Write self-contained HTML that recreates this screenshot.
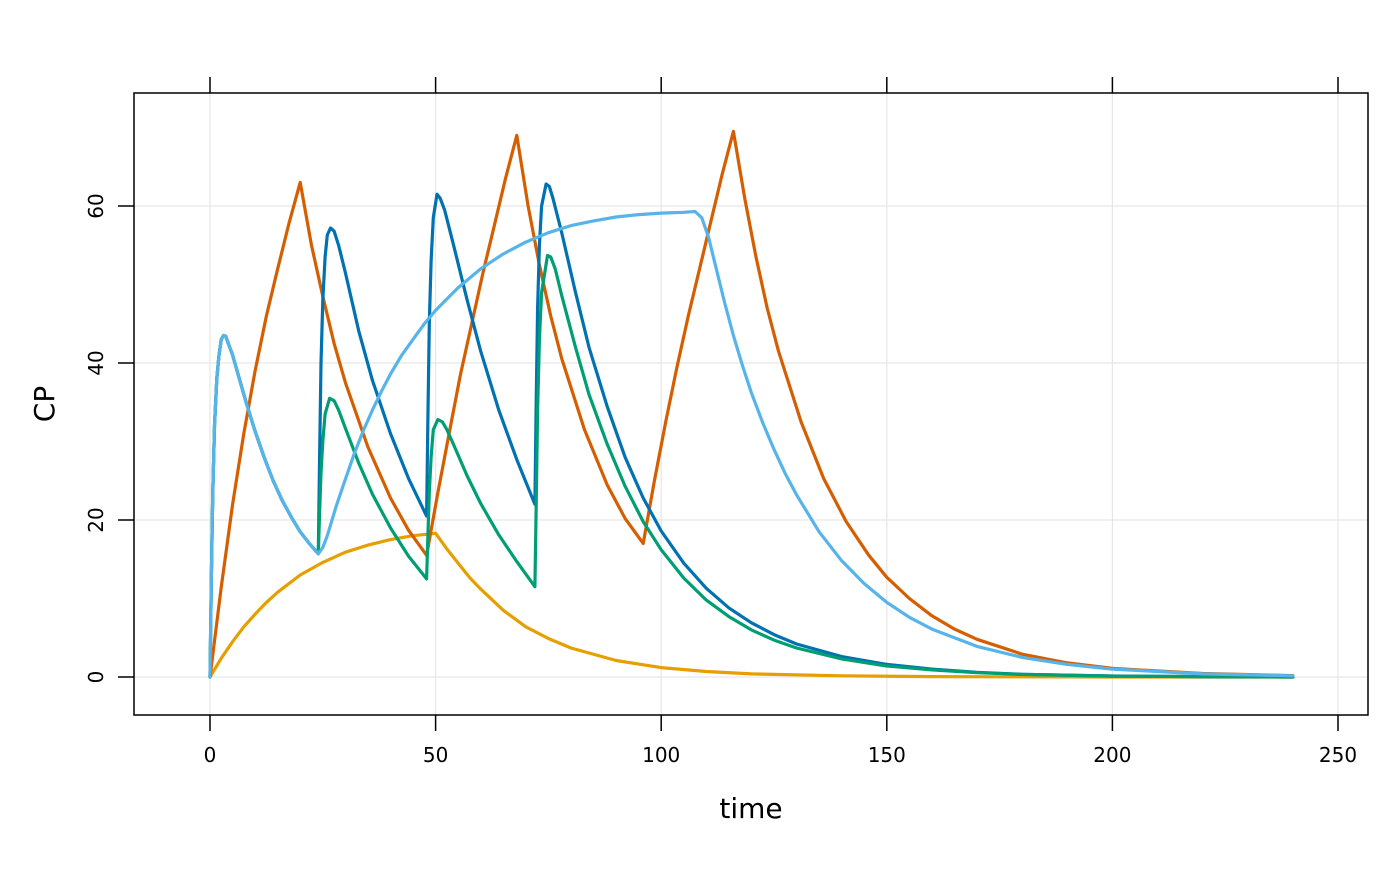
<!DOCTYPE html>
<html><head><meta charset="utf-8"><style>
body{margin:0;background:#fff;}
svg text{font-family:"DejaVu Sans","Liberation Sans",sans-serif;fill:#000;}
</style></head><body>
<svg id="chart" width="1400" height="866" xmlns="http://www.w3.org/2000/svg"></svg>
<script>
const xTicks=[0,50,100,150,200,250];
const yTicks=[0,20,40,60];
const sYellowT=[0,2.5,5,7.5,10,12.5,15,20,25,30,35,40,45,50,52.5,55,57.5,60,65,70,75,80,90,100,110,120,140,160,200,240];
const sYellowV=[0,2.4,4.5,6.4,8,9.5,10.8,13,14.6,15.9,16.8,17.5,18,18.3,16.3,14.5,12.7,11.2,8.5,6.4,4.9,3.7,2.1,1.2,0.7,0.4,0.15,0.05,0,0];
const sVermT=[0,2.5,5,7.5,10,12.5,15,17.5,20,22.5,25,27.5,30,35,40,44,48,50.5,53,55.5,58,60.5,63,65.5,68,70.5,73,75.5,78,83,88,92,96,98.5,101,103.5,106,108.5,111,113.5,116,118.5,121,123.5,126,131,136,141,146,150,155,160,165,170,180,190,200,220,240];
const sVermV=[0,11.5,22,31,39,46,52,57.8,63,55,48.5,42.5,37.5,29.3,22.8,18.7,15.5,23.5,31,38.5,45,51.5,57.5,63.5,69,60,52.5,46,40.5,31.5,24.5,20.2,17,25,32.5,39.5,46,52,58,64,69.5,61,53.5,47,41.5,32.5,25.3,19.8,15.5,12.7,10,7.8,6.1,4.8,2.9,1.8,1.1,0.45,0.18];
const sDarkT=[0,0.3,0.6,1,1.5,2,2.5,3,3.5,4,5,6,8,10,12,14,16,18,20,22,24,24.3,24.6,25,25.5,26,26.7,27.5,28.5,30,33,36,40,44,48,48.3,48.6,49,49.5,50.3,51,52,54,57,60,64,68,72,72.3,72.6,73,73.5,74.5,75.2,76,78,81,84,88,92,96,100,105,110,115,120,125,130,140,150,160,170,180,200,220,240];
const sDarkV=[0,13,23,32,38,41,43,43.5,43.4,42.6,41,39,35,31.3,28,25,22.5,20.4,18.5,17,15.7,28,40,48,53.5,56.3,57.2,56.8,55,51.5,44,37.8,31,25.3,20.5,33,45,53,58.5,61.5,61,59.5,55,48,41.5,34,27.7,22,35,47,55,60,62.8,62.5,61,56.5,49,42,34.5,28,22.8,18.6,14.5,11.3,8.8,6.9,5.4,4.2,2.6,1.6,1,0.6,0.35,0.13,0.05,0];
const sGreenT=[0,0.3,0.6,1,1.5,2,2.5,3,3.5,4,5,6,8,10,12,14,16,18,20,22,24,24.3,24.6,25,25.5,26.5,27.5,28.5,30,33,36,40,44,48,48.3,48.6,49,49.5,50.5,51.5,52.5,54,57,60,64,68,72,72.3,72.6,73,73.5,74.8,75.5,76.5,78,81,84,88,92,96,100,105,110,115,120,125,130,140,150,160,170,180,200,220,240];
const sGreenV=[0,13,23,32,38,41,43,43.5,43.4,42.6,41,39,35,31.3,28,25,22.5,20.4,18.5,17,15.7,21,26,30,33.5,35.5,35.2,34,31.7,27.2,23.3,19,15.4,12.5,18,23.5,28,31.5,32.8,32.5,31.5,29.6,25.6,22.1,18.1,14.7,11.5,22,34,43,49,53.7,53.5,52,48.5,42,36,29.7,24.3,19.8,16.2,12.6,9.8,7.7,6,4.7,3.7,2.3,1.4,0.9,0.55,0.33,0.12,0.05,0];
const sLightT=[0,0.3,0.6,1,1.5,2,2.5,3,3.5,4,5,6,8,10,12,14,16,18,20,22,24,25,26,28,30,32,34,36,38,40,42.5,45,47.5,50,55,60,65,70,75,80,85,90,95,100,105,107.5,109,110.5,112,114,116,118,120,122.5,125,127.5,130,135,140,145,150,155,160,170,180,190,200,220,240];
const sLightV=[0,13,23,32,38,41,43,43.5,43.4,42.6,41,39,35,31.3,28,25,22.5,20.4,18.5,17,15.7,16.5,18,21.8,25.2,28.5,31.4,34,36.4,38.6,41,43,45,46.7,49.6,52,53.9,55.4,56.6,57.5,58.1,58.6,58.9,59.1,59.2,59.3,58.5,56,52.5,47.8,43.5,39.7,36.2,32.4,29,25.9,23.2,18.5,14.8,11.9,9.5,7.6,6.1,3.9,2.5,1.6,1,0.4,0.15];

const NS="http://www.w3.org/2000/svg";
const svg=document.getElementById('chart');
const X=t=>210+t*(1338-210)/250;
const Y=v=>677-v*(677-206)/60;
function mk(tag,at,parent){const e=document.createElementNS(NS,tag);for(const k in at)e.setAttribute(k,at[k]);(parent||svg).appendChild(e);return e;}
const L=134,R=1368,T=93,B=715;
xTicks.forEach(t=>{const g=mk('line',{x1:X(t),x2:X(t),y1:T,y2:B,stroke:'#e6e6e6','stroke-width':1.2});

});
yTicks.forEach(v=>{const g=mk('line',{x1:L,x2:R,y1:Y(v),y2:Y(v),stroke:'#e6e6e6','stroke-width':1.2});

});
const series=[['series-yellow','#E69F00',sYellowT,sYellowV],['series-vermillion','#D55E00',sVermT,sVermV],['series-dark-blue','#0072B2',sDarkT,sDarkV],['series-green','#009E73',sGreenT,sGreenV],['series-light-blue','#56B4E9',sLightT,sLightV]];
series.forEach(s=>{const pts=s[2].map((t,i)=>X(t).toFixed(1)+','+Y(s[3][i]).toFixed(1)).join(' ');
const p=mk('polyline',{points:pts,fill:'none',stroke:s[1],'stroke-width':3.2,'stroke-linejoin':'round','stroke-linecap':'round'});

});
const box=mk('rect',{x:L,y:T,width:R-L,height:B-T,fill:'none',stroke:'#000','stroke-width':1.5});


xTicks.forEach(t=>{
mk('line',{x1:X(t),x2:X(t),y1:B,y2:B+16,stroke:'#000','stroke-width':1.5});
mk('line',{x1:X(t),x2:X(t),y1:T,y2:T-16,stroke:'#000','stroke-width':1.5});
const tx=mk('text',{x:X(t),y:762,'text-anchor':'middle',style:'font-size:20px'});tx.textContent=t;

});
yTicks.forEach(v=>{
mk('line',{x1:L,x2:L-16,y1:Y(v),y2:Y(v),stroke:'#000','stroke-width':1.5});
const tx=mk('text',{x:0,y:0,'text-anchor':'middle',style:'font-size:20px',transform:`translate(103,${Y(v)}) rotate(-90)`});tx.textContent=v;

});
const xt=mk('text',{x:751,y:818,'text-anchor':'middle',style:'font-size:28px'});xt.textContent='time';


const yt=mk('text',{x:0,y:0,'text-anchor':'middle',style:'font-size:28px',transform:'translate(54,404) rotate(-90)'});yt.textContent='CP';


</script>
</body></html>
